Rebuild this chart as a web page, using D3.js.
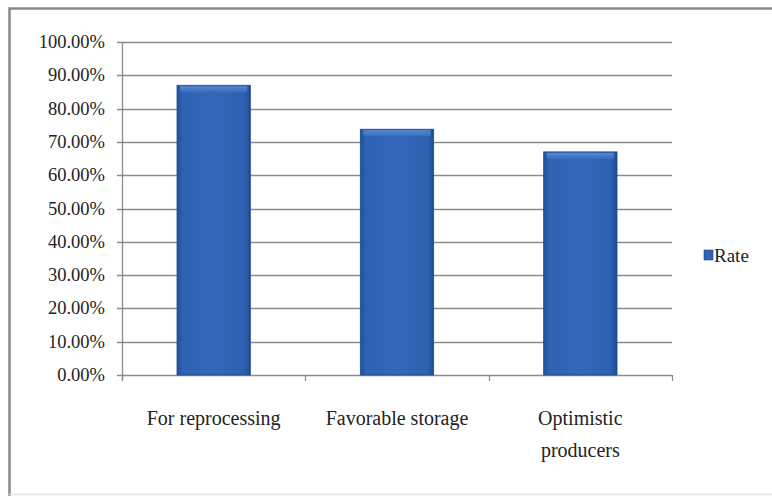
<!DOCTYPE html>
<html>
<head>
<meta charset="utf-8">
<script src="https://cdn.jsdelivr.net/npm/d3@7"></script>
<style>
  html, body { margin: 0; padding: 0; background: #ffffff; }
  svg { display: block; }
  svg text { font-family: "Liberation Serif", "DejaVu Serif", "Times New Roman", serif; }
</style>
</head>
<body>
<svg id="chart" width="772" height="496"></svg>
<script>
const categories = ["For reprocessing", "Favorable storage", "Optimistic producers"];
const categoryLines = [["For reprocessing"], ["Favorable storage"], ["Optimistic", "producers"]];
const rateValues = [0.87, 0.738, 0.67];
const yTicks = [0, 0.1, 0.2, 0.3, 0.4, 0.5, 0.6, 0.7, 0.8, 0.9, 1.0];
const seriesName = "Rate";

const svg = d3.select("#chart");
const W = 772, H = 496;
const plot = { left: 122, right: 672, top: 42, bottom: 375 };

// frame
svg.append("rect").attr("x", 0).attr("y", 0).attr("width", W).attr("height", H).attr("fill", "#fff");
svg.append("path")
  .attr("d", `M9.5,${H} L9.5,8.5 L${W},8.5`)
  .attr("fill", "none").attr("stroke", "#8a8a8a").attr("stroke-width", 2.5);
svg.append("line").attr("x1", 9).attr("x2", W).attr("y1", 494.5).attr("y2", 494.5)
  .attr("stroke", "#e4e4e4").attr("stroke-width", 1.5);

const x = d3.scaleBand().domain(categories).range([plot.left, plot.right]).paddingInner(0.6).paddingOuter(0.3);
const y = d3.scaleLinear().domain([0, 1]).range([plot.bottom, plot.top]);

// gradients
const defs = svg.append("defs");
const g1 = defs.append("linearGradient").attr("id", "barH").attr("x1", 0).attr("x2", 1).attr("y1", 0).attr("y2", 0);
g1.append("stop").attr("offset", "0%").attr("stop-color", "#21509c");
g1.append("stop").attr("offset", "8%").attr("stop-color", "#2e62b3");
g1.append("stop").attr("offset", "50%").attr("stop-color", "#3467b8");
g1.append("stop").attr("offset", "92%").attr("stop-color", "#2e60b0");
g1.append("stop").attr("offset", "100%").attr("stop-color", "#1e4b94");
const g2 = defs.append("linearGradient").attr("id", "barTop").attr("x1", 0).attr("x2", 0).attr("y1", 0).attr("y2", 1);
g2.append("stop").attr("offset", "0%").attr("stop-color", "#5a8bd6");
g2.append("stop").attr("offset", "100%").attr("stop-color", "#3a6cbd");

// gridlines
svg.append("g").selectAll("line").data(yTicks).join("line")
  .attr("x1", plot.left - 5).attr("x2", plot.right)
  .attr("y1", d => Math.round(y(d)) + 0.5).attr("y2", d => Math.round(y(d)) + 0.5)
  .attr("stroke", "#8c8c8c").attr("stroke-width", 1.3);

// y axis line
svg.append("line").attr("x1", plot.left + 0.5).attr("x2", plot.left + 0.5)
  .attr("y1", plot.top).attr("y2", plot.bottom + 5)
  .attr("stroke", "#8c8c8c").attr("stroke-width", 1.3);

// x axis tick marks at category boundaries
const bounds = [plot.left].concat(categories.map(c => x(c) - x.step() * x.paddingInner() / 2 + x.step()));
svg.append("g").selectAll("line").data(bounds).join("line")
  .attr("x1", d => Math.round(d) + 0.5).attr("x2", d => Math.round(d) + 0.5)
  .attr("y1", plot.bottom).attr("y2", plot.bottom + 6)
  .attr("stroke", "#8c8c8c").attr("stroke-width", 1.3);

// y tick labels
svg.append("g").selectAll("text").data(yTicks).join("text")
  .attr("x", 105).attr("y", d => y(d) + 6)
  .attr("text-anchor", "end")
  .style("font-size", "18.5px").attr("fill", "#222")
  .text(d => d3.format(".2%")(d));

// bars
const bars = svg.append("g").selectAll("g").data(categories).join("g");
bars.append("rect")
  .attr("x", d => x(d)).attr("y", (d, i) => y(rateValues[i]))
  .attr("width", x.bandwidth()).attr("height", (d, i) => y(0) - y(rateValues[i]))
  .attr("fill", "url(#barH)").attr("stroke", "#1d4890").attr("stroke-width", 0.8);
bars.append("rect")
  .attr("x", d => x(d) + 3).attr("y", (d, i) => y(rateValues[i]) + 1)
  .attr("width", x.bandwidth() - 6).attr("height", 6)
  .attr("fill", "url(#barTop)").attr("opacity", 0.9);

// category labels
const labels = svg.append("g").selectAll("text").data(categories).join("text")
  .attr("text-anchor", "middle")
  .style("font-size", "20px").attr("fill", "#222")
  .attr("transform", d => `translate(${x(d) + x.bandwidth() / 2},425)`);
labels.selectAll("tspan").data((d, i) => categoryLines[i]).join("tspan")
  .attr("x", 0).attr("dy", (d, j) => j === 0 ? 0 : 32)
  .text(d => d);

// legend
svg.append("rect").attr("x", 704).attr("y", 250).attr("width", 9).attr("height", 10)
  .attr("fill", "url(#barH)").attr("stroke", "#1d4890").attr("stroke-width", 0.6);
svg.append("text").attr("x", 714).attr("y", 262)
  .style("font-size", "19px").attr("fill", "#222")
  .text(seriesName);
</script>
</body>
</html>
